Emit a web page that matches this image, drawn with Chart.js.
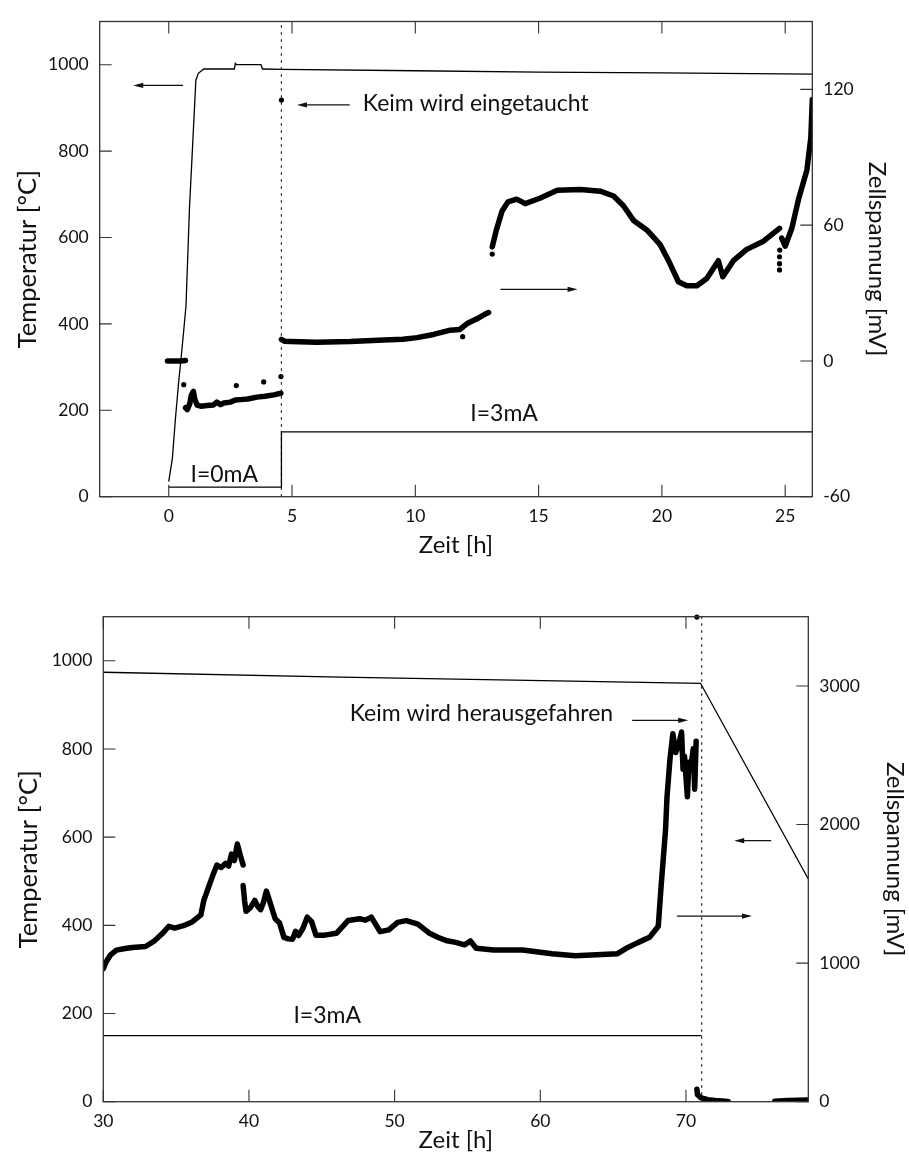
<!DOCTYPE html>
<html lang="de">
<head>
<meta charset="utf-8">
<title>Temperatur und Zellspannung</title>
<script src="https://cdn.jsdelivr.net/npm/chart.js@4.4.1/dist/chart.umd.min.js"></script>
<style>
  html, body { margin: 0; padding: 0; background: #fff; }
  .panel { width: 909px; height: 585px; }
  canvas { display: block; }
</style>
</head>
<body>
<div class="panel"><canvas id="topChart" width="909" height="585"></canvas></div>
<div class="panel"><canvas id="bottomChart" width="909" height="585"></canvas></div>
<script>
// ---- oberes Bild: Keim wird eingetaucht (0..26 h) ----
const topXTicks = [0, 5, 10, 15, 20, 25];
const topTempTicks = [0, 200, 400, 600, 800, 1000];
const topVoltTicks = [-60, 0, 60, 120];

const topTempTime = [0, 0.15, 0.27, 0.41, 0.5, 0.6, 0.7, 0.84, 0.97, 1.1, 1.2, 1.42, 2.66, 2.7, 2.75, 3.74, 3.8, 3.85, 4.57, 10, 15, 20, 26.1];
const topTemp = [35, 90, 180, 270, 320, 380, 442, 667, 815, 964, 980, 990, 990, 1003, 1000, 1000, 990, 990, 989, 986, 983, 981, 978];

const topCurrentTime = [0, 4.57, 4.57, 26.1];
const topCurrent = [22, 22, 150, 150];
const topMarkerTime = 4.57;

// null = Lücke in der Messreihe
const topVoltTime = [
  -0.05, 0.1, 0.3, 0.5, 0.68, null,
  0.68, 0.75, 0.85, 0.92, 1.0, 1.06, 1.15, 1.3, 1.56, 1.8, 1.95, 2.1, 2.23, 2.5, 2.7, 2.91, 3.2, 3.58, 3.9, 4.26, 4.55, null,
  4.57, 4.7, 4.93, 6.0, 7.37, 8.72, 9.5, 10.07, 10.74, 11.42, 11.8, 12.1, 12.5, 12.8, 12.97, null,
  13.12, 13.28, 13.52, 13.76, 14.11, 14.46, 15.05, 15.76, 16.7, 17.5, 18.04, 18.44, 18.85, 19.39, 19.93, 20.27, 20.67, 21.01, 21.42, 21.82, 22.29, 22.47, 22.9, 23.44, 24.12, 24.77, null,
  24.86, 25.0, 25.27, 25.54, 25.88, 26.04, 26.1,
];
const topVolt = [
  0, 0, 0, 0, 0.2, null,
  -20.7, -21.5, -19, -15, -13.5, -17, -19.5, -20, -19.7, -19.5, -18.2, -19.3, -18.6, -18.2, -17.3, -17.1, -16.8, -16, -15.6, -15, -14.3, null,
  9.5, 8.7, 8.6, 8.3, 8.6, 9.3, 9.6, 10.3, 11.7, 13.6, 13.9, 16.5, 18.6, 20.5, 21.4, null,
  50.4, 57.6, 66.3, 70.3, 71.5, 69.5, 71.9, 75.4, 75.8, 75.0, 72.9, 68.6, 62.1, 57.9, 51.4, 44.3, 35.0, 33.2, 33.2, 36.4, 44.3, 37.2, 44.3, 49.3, 52.9, 58.6, null,
  54.3, 50.7, 58.6, 71.4, 84.3, 98.6, 115.5,
];
const topDotTime = [0.61, 2.74, 3.85, 4.55, 4.57, 11.92, 13.12, 24.77, 24.77, 24.77, 24.78];
const topDot = [-10.5, -10.9, -9.3, -6.9, 115.3, 10.7, 47.2, 40.2, 43, 46, 49];

const topNotes = [
  { text: "Keim wird eingetaucht", x: 7.87, y: 910 },
  { text: "I=0mA", x: 0.88, y: 51 },
  { text: "I=3mA", x: 12.23, y: 192 },
];
const topArrows = [
  { from: [0.58, 952], to: [-1.44, 952] },
  { from: [7.34, 907], to: [5.2, 907] },
  { from: [13.45, 480], to: [16.58, 480] },
];

// ---- unteres Bild: Keim wird herausgefahren (30..78 h) ----
const bottomXTicks = [30, 40, 50, 60, 70];
const bottomTempTicks = [0, 200, 400, 600, 800, 1000];
const bottomVoltTicks = [0, 1000, 2000, 3000];

const bottomTempTime = [30, 46.3, 71.0, 78.4];
const bottomTemp = [974, 963, 949, 505];

const bottomCurrentTime = [30, 71.08];
const bottomCurrent = [150, 150];
const bottomMarkerTime = 71.08;

const bottomVoltTime = [
  30.0, 30.2, 30.5, 30.9, 31.5, 32.0, 32.9, 33.5, 34.0, 34.5, 34.9, 35.5, 36.1, 36.7, 36.9, 37.2, 37.5, 37.8, 38.1, 38.4, 38.6, 38.8, 39.0, 39.2, 39.4, 39.6, null,
  39.6, 39.7, 39.8, 40.1, 40.4, 40.6, 40.8, 41.0, 41.2, 41.5, 41.8, 42.1, 42.4, 42.7, 43.0, 43.2, 43.4, 43.7, 44.0, 44.3, 44.6, 45.2, 46.0, 46.8, 47.6, 48.0, 48.4, 49.0, 49.6, 50.2, 50.8, 51.6, 52.4, 53.0, 53.6, 54.2, 54.8, 55.2, 55.6, 56.8, 58.8, 60.8, 62.4, 63.5, 65.3, 65.9, 66.7, 67.5, 68.1, 68.3, 68.6, 68.7, 68.9, 69.1, 69.3, 69.5, 69.7, 69.8, 69.9, 70.1, 70.2, 70.3, 70.5, 70.6, 70.7, null,
  70.75, 70.8, 71.0, 71.5, 72.0, 72.9, null,
  76.1, 77.0, 78.4,
];
const bottomVolt = [
  960, 1010, 1060, 1094, 1105, 1113, 1120, 1160, 1208, 1266, 1253, 1270, 1297, 1348, 1453, 1540, 1628, 1708, 1690, 1720, 1700, 1787, 1740, 1860, 1780, 1708, null,
  1561, 1450, 1374, 1400, 1453, 1410, 1386, 1440, 1520, 1420, 1320, 1290, 1186, 1175, 1173, 1230, 1200, 1250, 1332, 1300, 1202, 1202, 1215, 1307, 1320, 1310, 1332, 1227, 1240, 1294, 1307, 1282, 1215, 1185, 1161, 1150, 1132, 1160, 1107, 1094, 1094, 1068, 1053, 1059, 1068, 1107, 1148, 1186, 1266, 1561, 1962, 2200, 2468, 2655, 2520, 2576, 2668, 2400, 2493, 2200, 2450, 2388, 2547, 2255, 2601, null,
  90, 50, 30, 15, 8, 2, null,
  3, 8, 12,
];
const bottomDotTime = [70.75];
const bottomDot = [3497];

const bottomNotes = [
  { text: "Keim wird herausgefahren", x: 46.92, y: 880 },
  { text: "I=3mA", x: 43.05, y: 195 },
];
const bottomArrows = [
  { from: [66.31, 865], to: [70.16, 865] },
  { from: [75.85, 592], to: [73.31, 592] },
  { from: [69.38, 421], to: [74.53, 421] },
];

Chart.defaults.font.family = "Lato, 'DejaVu Sans', sans-serif";
Chart.defaults.color = "#111";

function toPoints(xs, ys) {
  return xs.map((x, i) => ({ x, y: ys[i] }));
}

const frameTicks = {
  id: "frameTicks",
  afterDraw(chart) {
    const { ctx, chartArea: a, scales } = chart;
    const len = 12;
    ctx.save();
    ctx.strokeStyle = "#333";
    ctx.lineWidth = 1.3;
    ctx.strokeRect(a.left, a.top, a.right - a.left, a.bottom - a.top);
    ctx.lineWidth = 1.1;
    ctx.beginPath();
    for (const t of scales.x.ticks) {
      const px = scales.x.getPixelForValue(t.value);
      ctx.moveTo(px, a.bottom);
      ctx.lineTo(px, a.bottom - len);
      ctx.moveTo(px, a.top);
      ctx.lineTo(px, a.top + len);
    }
    for (const t of scales.y.ticks) {
      const py = scales.y.getPixelForValue(t.value);
      ctx.moveTo(a.left, py);
      ctx.lineTo(a.left + len, py);
    }
    for (const t of scales.y2.ticks) {
      const py = scales.y2.getPixelForValue(t.value);
      ctx.moveTo(a.right, py);
      ctx.lineTo(a.right - len, py);
    }
    ctx.stroke();
    ctx.restore();
  },
};

const notes = {
  id: "notes",
  afterDatasetsDraw(chart, args, opts) {
    const { ctx, scales } = chart;
    const sx = scales.x;
    const sy = scales.y;
    ctx.save();
    ctx.fillStyle = "#111";
    ctx.strokeStyle = "#111";
    ctx.font = "23px Lato, 'DejaVu Sans', sans-serif";
    ctx.textBaseline = "middle";
    ctx.textAlign = "left";
    for (const n of opts.texts || []) {
      ctx.fillText(n.text, sx.getPixelForValue(n.x), sy.getPixelForValue(n.y));
    }
    ctx.lineWidth = 1.2;
    for (const ar of opts.arrows || []) {
      const x0 = sx.getPixelForValue(ar.from[0]);
      const y0 = sy.getPixelForValue(ar.from[1]);
      const x1 = sx.getPixelForValue(ar.to[0]);
      const y1 = sy.getPixelForValue(ar.to[1]);
      const ang = Math.atan2(y1 - y0, x1 - x0);
      const c = Math.cos(ang);
      const s = Math.sin(ang);
      ctx.beginPath();
      ctx.moveTo(x0, y0);
      ctx.lineTo(x1 - 4 * c, y1 - 4 * s);
      ctx.stroke();
      ctx.beginPath();
      ctx.moveTo(x1, y1);
      ctx.lineTo(x1 - 10 * c + 2.6 * s, y1 - 10 * s - 2.6 * c);
      ctx.lineTo(x1 - 10 * c - 2.6 * s, y1 - 10 * s + 2.6 * c);
      ctx.closePath();
      ctx.fill();
    }
    ctx.restore();
  },
};

function fixedTicks(values) {
  return (scale) => {
    scale.ticks = values.map((value) => ({ value }));
  };
}

const plainNumber = (v) => String(v);

function makePanel(canvas, cfg) {
  return new Chart(canvas, {
    type: "scatter",
    data: {
      datasets: [
        {
          label: "Temperatur",
          data: toPoints(cfg.tempTime, cfg.temp),
          yAxisID: "y",
          showLine: true,
          borderColor: "#000",
          borderWidth: 1.3,
          pointRadius: 0,
        },
        {
          label: "Strom",
          data: toPoints(cfg.currentTime, cfg.current),
          yAxisID: "y",
          showLine: true,
          borderColor: "#000",
          borderWidth: 1.3,
          pointRadius: 0,
        },
        {
          label: "Keim",
          data: toPoints([cfg.markerTime, cfg.markerTime], [0, cfg.tempMax]),
          yAxisID: "y",
          showLine: true,
          borderColor: "#222",
          borderWidth: 1.2,
          borderDash: [2.5, 4.5],
          pointRadius: 0,
        },
        {
          label: "Zellspannung",
          data: toPoints(cfg.voltTime, cfg.volt),
          yAxisID: "y2",
          showLine: true,
          spanGaps: false,
          borderColor: "#000",
          borderWidth: 5.5,
          borderCapStyle: "round",
          borderJoinStyle: "round",
          pointRadius: 0,
        },
        {
          label: "Einzelwerte",
          data: toPoints(cfg.dotTime, cfg.dot),
          yAxisID: "y2",
          showLine: false,
          backgroundColor: "#000",
          borderWidth: 0,
          pointRadius: 2.6,
          clip: false,
        },
      ],
    },
    options: {
      responsive: false,
      devicePixelRatio: 1,
      animation: false,
      layout: { padding: { top: cfg.padTop, left: 0, right: 0, bottom: 0 } },
      scales: {
        x: {
          type: "linear",
          min: cfg.xMin,
          max: cfg.xMax,
          afterBuildTicks: fixedTicks(cfg.xTicks),
          afterFit: (scale) => { scale.height = cfg.xHeight; },
          grid: { display: false, drawTicks: false },
          border: { display: false },
          ticks: { font: { size: 17.5 }, padding: 9, maxRotation: 0, callback: plainNumber },
          title: { display: true, text: "Zeit [h]", font: { size: 24 }, padding: { top: 0, bottom: cfg.xTitlePad } },
        },
        y: {
          type: "linear",
          position: "left",
          min: 0,
          max: cfg.tempMax,
          afterBuildTicks: fixedTicks(cfg.tempTicks),
          afterFit: (scale) => { scale.width = cfg.leftWidth; },
          grid: { display: false, drawTicks: false },
          border: { display: false },
          ticks: { font: { size: 17.5 }, padding: 11, callback: plainNumber },
          title: { display: true, text: "Temperatur [°C]", font: { size: 25.5 }, padding: { top: cfg.leftTitlePad, bottom: 0 } },
        },
        y2: {
          type: "linear",
          position: "right",
          min: cfg.voltMin,
          max: cfg.voltMax,
          afterBuildTicks: fixedTicks(cfg.voltTicks),
          afterFit: (scale) => { scale.width = cfg.rightWidth; },
          grid: { display: false, drawTicks: false },
          border: { display: false },
          ticks: { font: { size: 17.5 }, padding: 11, callback: plainNumber },
          title: { display: true, text: "Zellspannung [mV]", font: { size: 24 }, padding: { top: cfg.rightTitlePad, bottom: 0 } },
        },
      },
      plugins: {
        legend: { display: false },
        tooltip: { enabled: false },
        notes: { texts: cfg.notes, arrows: cfg.arrows },
      },
    },
    plugins: [frameTicks, notes],
  });
}

makePanel(document.getElementById("topChart"), {
  tempTime: topTempTime, temp: topTemp,
  currentTime: topCurrentTime, current: topCurrent,
  markerTime: topMarkerTime,
  voltTime: topVoltTime, volt: topVolt,
  dotTime: topDotTime, dot: topDot,
  notes: topNotes, arrows: topArrows,
  xMin: -2.8, xMax: 26.1, xTicks: topXTicks,
  tempMax: 1100, tempTicks: topTempTicks,
  voltMin: -60, voltMax: 150, voltTicks: topVoltTicks,
  padTop: 6.7, xHeight: 88.3, leftWidth: 99.7, rightWidth: 96.7,
  xTitlePad: 25.6, leftTitlePad: 12.2, rightTitlePad: 17.9,
});

makePanel(document.getElementById("bottomChart"), {
  tempTime: bottomTempTime, temp: bottomTemp,
  currentTime: bottomCurrentTime, current: bottomCurrent,
  markerTime: bottomMarkerTime,
  voltTime: bottomVoltTime, volt: bottomVolt,
  dotTime: bottomDotTime, dot: bottomDot,
  notes: bottomNotes, arrows: bottomArrows,
  xMin: 30, xMax: 78.4, xTicks: bottomXTicks,
  tempMax: 1100, tempTicks: bottomTempTicks,
  voltMin: 0, voltMax: 3500, voltTicks: bottomVoltTicks,
  padTop: 31.7, xHeight: 68.3, leftWidth: 103.3, rightWidth: 100.7,
  xTitlePad: 15.6, leftTitlePad: 13.7, rightTitlePad: 0,
});
</script>
</body>
</html>
